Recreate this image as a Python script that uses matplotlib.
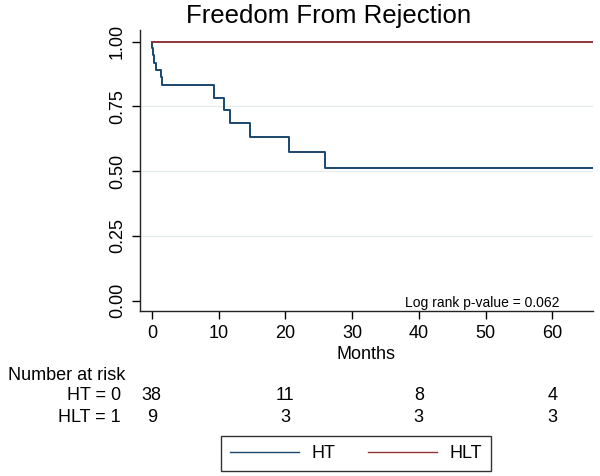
import numpy as np
import matplotlib
matplotlib.use('Agg')
import matplotlib.pyplot as plt
import matplotlib.transforms as mtransforms

plt.rcParams['font.family'] = ['Liberation Sans', 'DejaVu Sans']

# Curvas de Kaplan-Meier
ht_months = [0, 0.1, 0.25, 0.4, 0.6, 1.4, 1.5, 9.35, 10.75, 11.75, 14.75, 20.6, 26.0, 66.1]
ht_surv = [1.0, 0.974, 0.947, 0.918, 0.891, 0.862, 0.833, 0.784, 0.735, 0.685, 0.633, 0.574, 0.514, 0.514]
hlt_months = [0, 66.1]
hlt_surv = [1.0, 1.0]

# Tabla de numero en riesgo
risk_months = [0, 20, 40, 60]
risk_ht = [38, 11, 8, 4]
risk_hlt = [9, 3, 3, 3]
risk_labels = ['HT = 0', 'HLT = 1']

x_ticks = [0, 10, 20, 30, 40, 50, 60]
y_ticks = [0.0, 0.25, 0.5, 0.75, 1.0]

navy = '#1a476f'
maroon = '#90353b'

fig = plt.figure(figsize=(6.0, 4.76), dpi=100)
ax = fig.add_axes([140 / 600, 1 - 311 / 476, 453 / 600, 281 / 476])

for y in [0.25, 0.5, 0.75]:
    ax.axhline(y, color='#e6eced', lw=1.0, zorder=0)

l1, = ax.step(ht_months, ht_surv, where='post', color=navy, lw=1.4, label='HT')
l2, = ax.step(hlt_months, hlt_surv, where='post', color=maroon, lw=1.4, label='HLT')

ax.set_xlim(-1.77, 66.1)
ax.set_ylim(-0.04, 1.045)
ax.set_xticks(x_ticks)
ax.set_yticks(y_ticks)
ax.set_yticklabels(['%.2f' % v for v in y_ticks], rotation=90, va='center')
ax.tick_params(axis='both', direction='out', length=6, width=1, labelsize=13, colors='black', pad=4)
ax.spines['top'].set_visible(False)
ax.spines['right'].set_visible(False)
for s in ['left', 'bottom']:
    ax.spines[s].set_linewidth(1.0)
    ax.spines[s].set_color('#222222')

ax.set_xlabel('Months', fontsize=13, labelpad=3)
ax.text(0.925, 0.03, 'Log rank p-value = 0.062', transform=ax.transAxes,
        ha='right', va='center', fontsize=10)

fig.text(329 / 600, 1 - 16 / 476, 'Freedom From Rejection', ha='center', va='center', fontsize=18.5)

# Numero en riesgo
trans = mtransforms.blended_transform_factory(ax.transData, fig.transFigure)
fig.text(8 / 600, 1 - 375 / 476, 'Number at risk', ha='left', va='center', fontsize=13)
rows = [risk_ht, risk_hlt]
row_y = [1 - 396 / 476, 1 - 417 / 476]
for label, vals, yy in zip(risk_labels, rows, row_y):
    fig.text(121 / 600, yy, label, ha='right', va='center', fontsize=13)
    for m, v in zip(risk_months, vals):
        ax.text(m, yy, str(v), transform=trans, ha='center', va='center', fontsize=13, clip_on=False)

leg = fig.legend(handles=[l1, l2], loc='center', bbox_to_anchor=(356 / 600, 1 - 453.5 / 476),
                 ncol=2, fontsize=13, frameon=True, fancybox=False, handlelength=3.8,
                 columnspacing=1.8, borderpad=0.5, handletextpad=0.7)
leg.get_frame().set_edgecolor('black')
leg.get_frame().set_linewidth(1.0)
for h in leg.get_lines():
    h.set_linewidth(1.0)

fig.savefig('out.png', dpi=100)
